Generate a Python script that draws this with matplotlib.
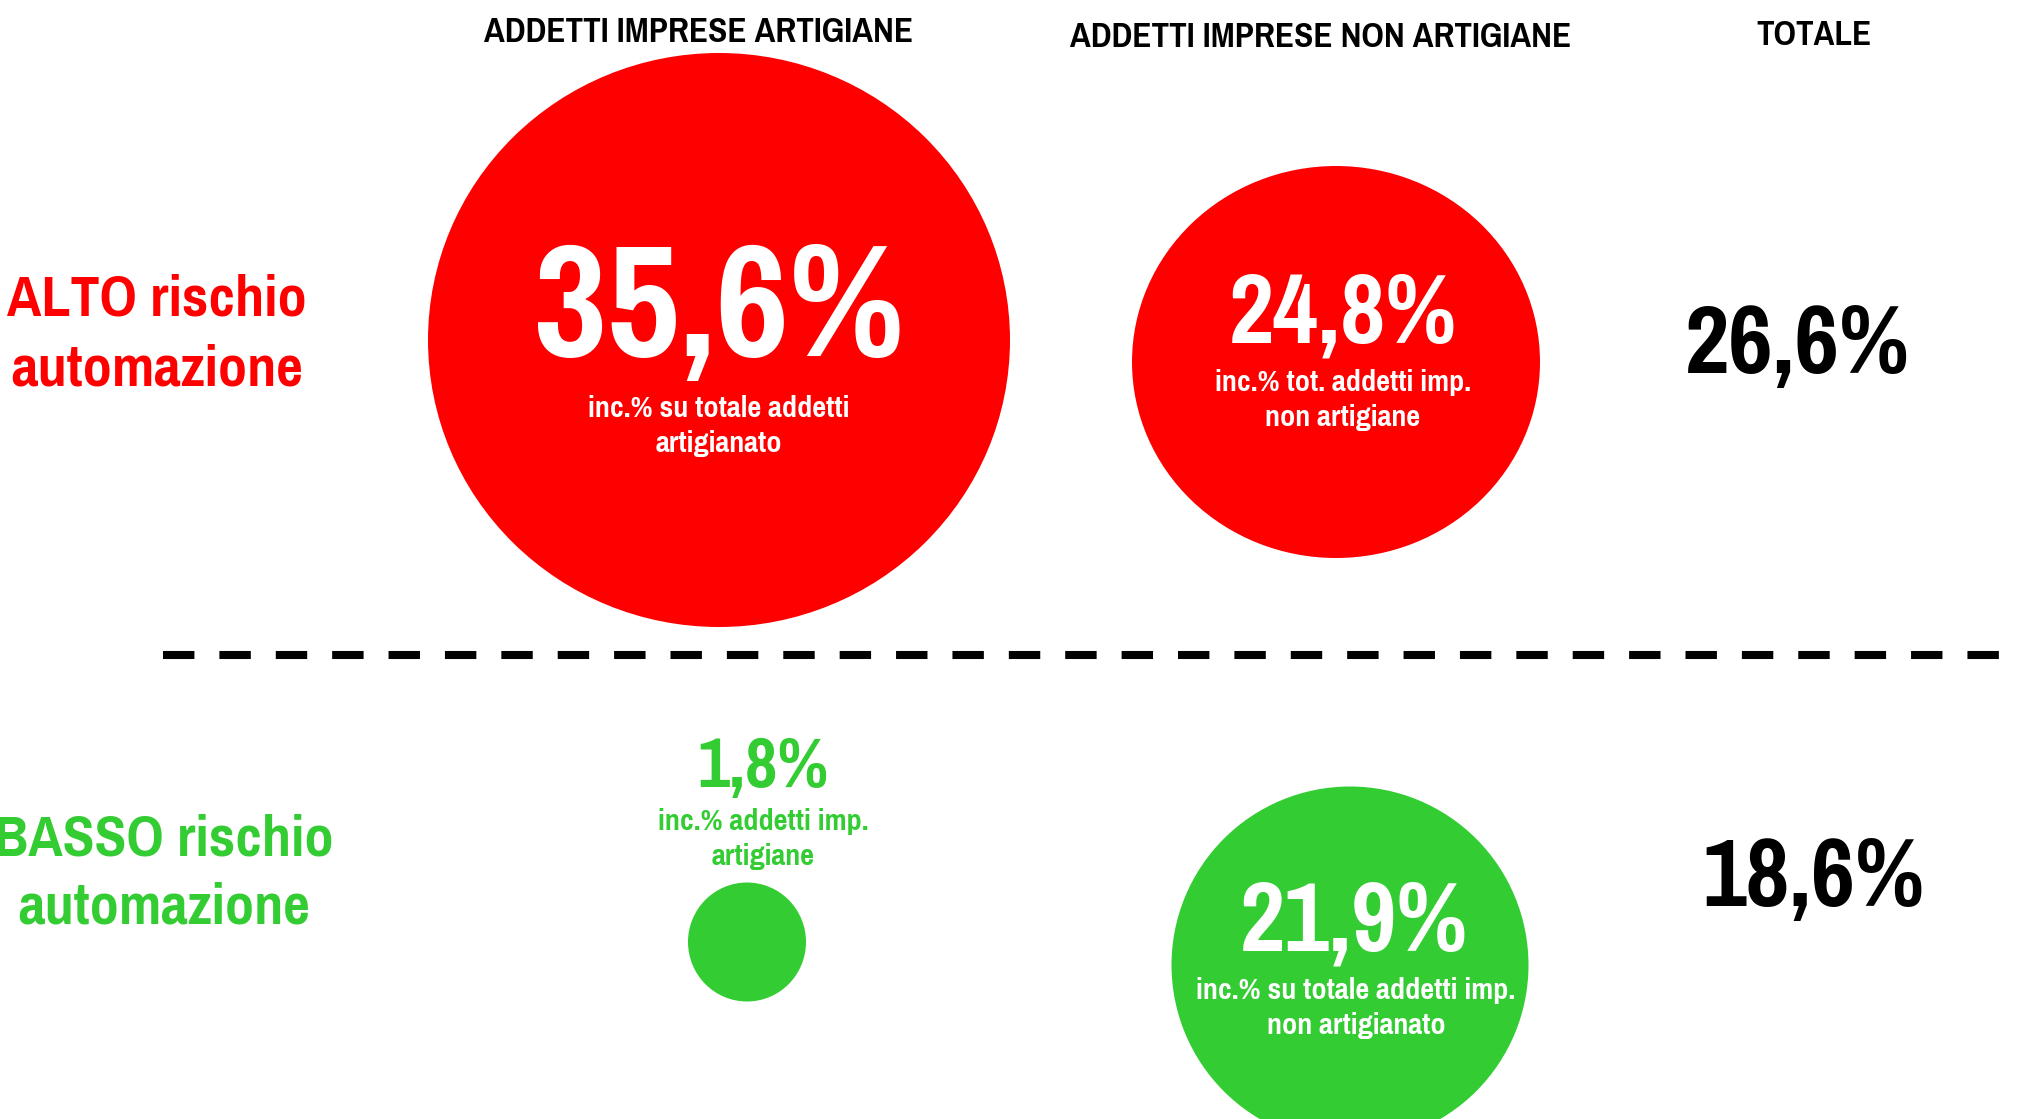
import matplotlib.pyplot as plt
from matplotlib.patches import Ellipse

# Chart values
columns = ["ADDETTI IMPRESE ARTIGIANE", "ADDETTI IMPRESE NON ARTIGIANE", "TOTALE"]
row_labels = ["ALTO rischio\nautomazione", "BASSO rischio\nautomazione"]
alto = [35.6, 24.8, 26.6]
basso = [1.8, 21.9, 18.6]
alto_notes = ["inc.% su totale addetti\nartigianato", "inc.% tot. addetti imp.\nnon artigiane", ""]
basso_notes = ["inc.% addetti imp.\nartigiane", "inc.% su totale addetti imp.\nnon artigianato", ""]

RED = "#FF0000"
GREEN = "#33CC33"
FONT = ["Pragati Narrow", "DejaVu Sans"]

W, H = 2024, 1119
fig = plt.figure(figsize=(W / 100, H / 100), dpi=100)
ax = fig.add_axes([0, 0, 1, 1])
ax.set_xlim(0, W)
ax.set_ylim(H, 0)
ax.axis("off")


def lines(x, y0, text, step, **kw):
    # draw a multi-line label, one line per baseline
    for i, line in enumerate(text.split("\n")):
        ax.text(x, y0 + i * step, line, ha="center", va="baseline",
                family=FONT, weight="bold", **kw)


def pct(v):
    return f"{v:.1f}%".replace(".", ",")


# layout (pixels): column headers
head_x = [699, 1321, 1814]
head_y = [42, 47, 45]
for x, y, t in zip(head_x, head_y, columns):
    lines(x, y, t, 0, size=27.5, color="black")

# row labels
lines(157, 316, row_labels[0], 70, size=45.5, color=RED)
lines(164, 855, row_labels[1], 69, size=45.5, color=GREEN)

# bubbles: (cx, cy, width, height)
alto_bubbles = [(719, 340, 582, 574), (1336, 362, 408, 392), None]
basso_bubbles = [(747, 942, 118, 119), (1350, 965, 357, 357), None]

for b, c in [(alto_bubbles, RED), (basso_bubbles, GREEN)]:
    for e in b:
        if e is not None:
            ax.add_patch(Ellipse((e[0], e[1]), e[2], e[3], color=c, lw=0))

# value labels: (x, baseline, size, colour)
alto_val = [(719, 356, 125, "white"), (1343, 342, 77, "white"), (1798, 373, 76, "black")]
basso_val = [(763, 787, 55, GREEN), (1354, 951, 77, "white"), (1814, 906, 75, "black")]
for vals, pos in [(alto, alto_val), (basso, basso_val)]:
    for v, (x, y, s, c) in zip(vals, pos):
        lines(x, y, pct(v), 0, size=s, color=c)

# note labels: (x, baseline, colour)
alto_note_pos = [(719, 417, "white"), (1343, 391, "white")]
basso_note_pos = [(763, 830, GREEN), (1356, 999, "white")]
for notes, pos in [(alto_notes, alto_note_pos), (basso_notes, basso_note_pos)]:
    for n, (x, y, c) in zip(notes, pos):
        lines(x, y, n, 35, size=23.7, color=c)

# dashed separator
ax.plot([163, W + 10], [655, 655], color="black", lw=5.8,
        dashes=(3.9, 3.1), solid_capstyle="butt", dash_capstyle="butt")

fig.savefig("out.png", dpi=100, facecolor="white")
